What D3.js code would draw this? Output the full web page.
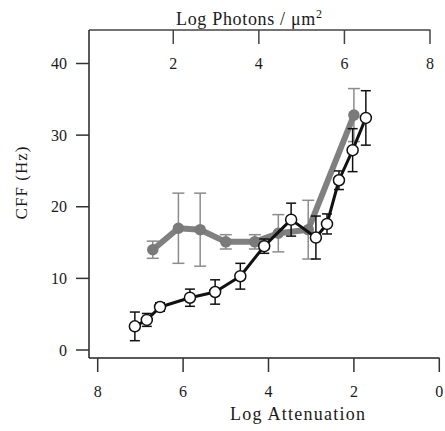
<!DOCTYPE html>
<html>
<head>
<meta charset="utf-8">
<script src="https://cdn.jsdelivr.net/npm/d3@7"></script>
<style>
  body { margin: 0; background: #fff; }
  text { font-family: "Liberation Serif", "DejaVu Serif", serif; fill: #1a1a1a; }
</style>
</head>
<body>
<div id="chart"></div>
<script>
var w = 445,
	h = 431;

// black open circles: Log Attenuation vs CFF
var blackAtt = [7.13, 6.85, 6.54, 5.84, 5.25, 4.66, 4.10, 3.47, 2.89, 2.63, 2.35, 2.03, 1.72];
var blackCff = [3.3, 4.2, 6.0, 7.3, 8.1, 10.3, 14.5, 18.2, 15.7, 17.6, 23.7, 27.9, 32.4];
var blackErr = [2.0, 0.9, 0.6, 1.2, 1.7, 1.8, 1.0, 2.3, 3.0, 1.4, 1.3, 3.0, 3.8];

// gray filled circles
var grayAtt = [6.71, 6.11, 5.60, 5.00, 4.32, 3.77, 3.07, 2.00];
var grayCff = [14.0, 17.0, 16.8, 15.1, 15.1, 16.3, 16.8, 32.8];
var grayErr = [1.2, 4.9, 5.1, 1.0, 1.0, 2.6, 4.1, 3.7];

var yTicks = [0, 10, 20, 30, 40];
var bottomTicks = [8, 6, 4, 2, 0];
var topTicks = [2, 4, 6, 8];

var x = d3.scaleLinear().domain([8, 0]).range([97.7, 439.3]);
var xTop = d3.scaleLinear().domain([0, 8]).range([87.7, 430]);
var y = d3.scaleLinear().domain([0, 40]).range([350, 63.5]);

var svg = d3.select("#chart").append("svg")
	.attr("width", w)
	.attr("height", h);

// axes frame
var axLeft = 89, axTop = 30, axBottom = 358;

svg.append("line").attr("x1", axLeft).attr("x2", axLeft).attr("y1", axTop).attr("y2", axBottom)
	.attr("stroke", "#222").attr("stroke-width", 1.5);
svg.append("line").attr("x1", axLeft).attr("x2", 439.5).attr("y1", axBottom).attr("y2", axBottom)
	.attr("stroke", "#222").attr("stroke-width", 1.5);
svg.append("line").attr("x1", axLeft).attr("x2", 430.5).attr("y1", axTop).attr("y2", axTop)
	.attr("stroke", "#444").attr("stroke-width", 1.5);

// y ticks
svg.selectAll(".ytick").data(yTicks).enter().append("line")
	.attr("x1", axLeft - 13).attr("x2", axLeft)
	.attr("y1", function(d){ return y(d); }).attr("y2", function(d){ return y(d); })
	.attr("stroke", "#333").attr("stroke-width", 1.5);
svg.selectAll(".ylab").data(yTicks).enter().append("text")
	.attr("x", 67).attr("y", function(d){ return y(d) + 5.5; })
	.attr("text-anchor", "end").attr("font-size", "16px")
	.text(function(d){ return d; });

// bottom ticks
svg.selectAll(".btick").data(bottomTicks).enter().append("line")
	.attr("x1", function(d){ return x(d); }).attr("x2", function(d){ return x(d); })
	.attr("y1", axBottom).attr("y2", axBottom + 14)
	.attr("stroke", "#333").attr("stroke-width", 1.5);
svg.selectAll(".blab").data(bottomTicks).enter().append("text")
	.attr("x", function(d){ return x(d); }).attr("y", 397)
	.attr("text-anchor", "middle").attr("font-size", "16px")
	.text(function(d){ return d; });

// top ticks
svg.selectAll(".ttick").data(topTicks).enter().append("line")
	.attr("x1", function(d){ return xTop(d); }).attr("x2", function(d){ return xTop(d); })
	.attr("y1", axTop).attr("y2", axTop + 14)
	.attr("stroke", "#444").attr("stroke-width", 1.5);
svg.selectAll(".tlab").data(topTicks).enter().append("text")
	.attr("x", function(d){ return xTop(d); }).attr("y", 69)
	.attr("text-anchor", "middle").attr("font-size", "16px")
	.text(function(d){ return d; });

// titles
svg.append("text").attr("x", 297.5).attr("y", 420)
	.attr("text-anchor", "middle").attr("font-size", "18px")
	.attr("textLength", 135).attr("lengthAdjust", "spacing")
	.text("Log Attenuation");
var tt = svg.append("text").attr("x", 249).attr("y", 25)
	.attr("text-anchor", "middle").attr("font-size", "18px")
	.attr("textLength", 146).attr("lengthAdjust", "spacing");
tt.append("tspan").text("Log Photons / \u03bcm");
tt.append("tspan").attr("dy", -7).attr("font-size", "12px").text("2");
svg.append("text")
	.attr("transform", "translate(27,183) rotate(-90)")
	.attr("text-anchor", "middle").attr("font-size", "17px")
	.attr("textLength", 73).attr("lengthAdjust", "spacing")
	.text("CFF (Hz)");

function series(att, cff, err, opt) {
	var pts = att.map(function(a, i){ return {a: a, c: cff[i], e: err[i]}; });
	var g = svg.append("g");
	// error bars
	pts.forEach(function(p) {
		var px = x(p.a);
		g.append("line").attr("x1", px).attr("x2", px)
			.attr("y1", y(p.c - p.e)).attr("y2", y(p.c + p.e))
			.attr("stroke", opt.errColor).attr("stroke-width", 1.5);
		[p.c - p.e, p.c + p.e].forEach(function(v) {
			g.append("line").attr("x1", px - opt.cap).attr("x2", px + opt.cap)
				.attr("y1", y(v)).attr("y2", y(v))
				.attr("stroke", opt.errColor).attr("stroke-width", 1.5);
		});
	});
	var line = d3.line().x(function(d){ return x(d.a); }).y(function(d){ return y(d.c); });
	g.append("path").datum(pts).attr("d", line)
		.attr("fill", "none").attr("stroke", opt.lineColor)
		.attr("stroke-width", opt.lineWidth).attr("stroke-linejoin", "round");
	g.selectAll("circle").data(pts).enter().append("circle")
		.attr("cx", function(d){ return x(d.a); })
		.attr("cy", function(d){ return y(d.c); })
		.attr("r", opt.r)
		.attr("fill", opt.fill)
		.attr("stroke", opt.stroke)
		.attr("stroke-width", 1.5);
}

series(grayAtt, grayCff, grayErr, {
	errColor: "#8c8c8c", cap: 6, lineColor: "#808080", lineWidth: 6,
	r: 5, fill: "#7a7a7a", stroke: "#7a7a7a"
});
series(blackAtt, blackCff, blackErr, {
	errColor: "#111", cap: 5, lineColor: "#111", lineWidth: 3,
	r: 5.5, fill: "#fff", stroke: "#111"
});
</script>
</body>
</html>
